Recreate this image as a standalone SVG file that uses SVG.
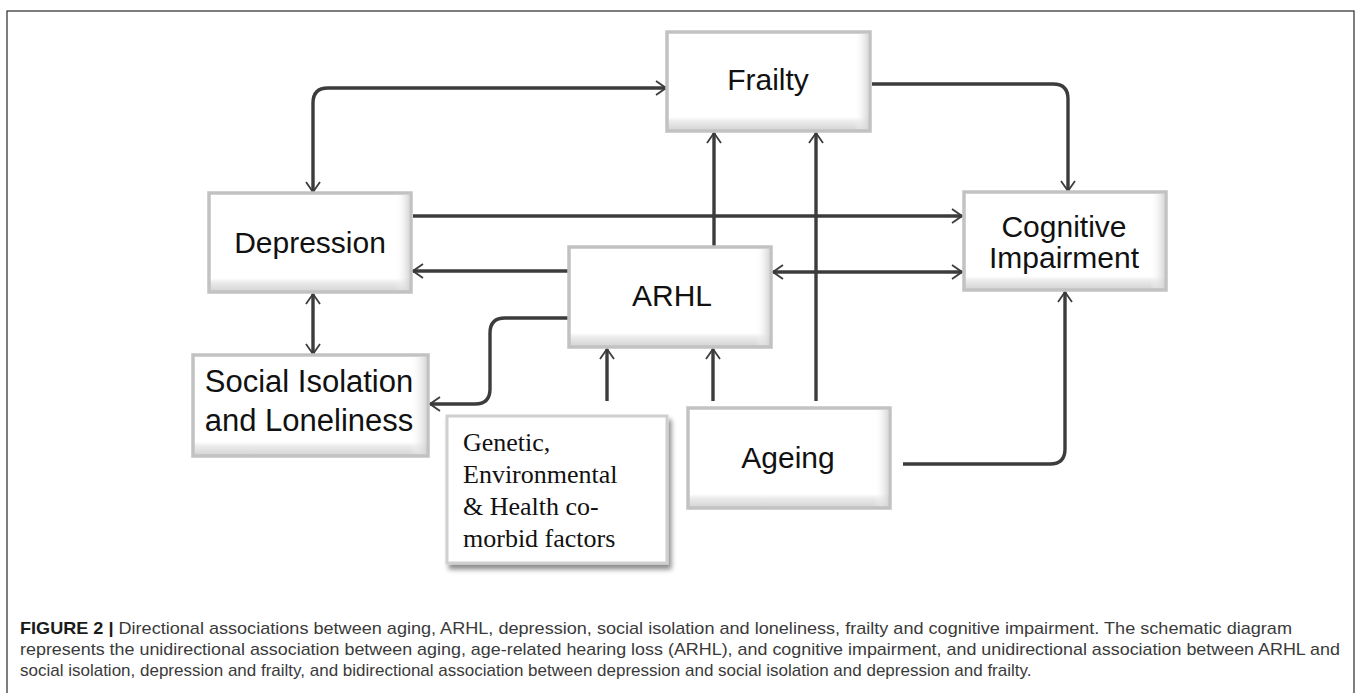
<svg xmlns="http://www.w3.org/2000/svg" width="1358" height="693" viewBox="0 0 1358 693">
  <defs>
    <linearGradient id="boxV" x1="0" y1="0" x2="0" y2="1">
      <stop offset="0" stop-color="#ffffff"/>
      <stop offset="0.86" stop-color="#ffffff"/>
      <stop offset="0.9" stop-color="#ececec"/>
      <stop offset="1" stop-color="#d2d2d2"/>
    </linearGradient>
    <linearGradient id="boxH" x1="0" y1="0" x2="1" y2="0">
      <stop offset="0" stop-color="#ffffff" stop-opacity="0"/>
      <stop offset="0.93" stop-color="#ffffff" stop-opacity="0"/>
      <stop offset="1" stop-color="#d6d6d6" stop-opacity="0.9"/>
    </linearGradient>
    <filter id="shadow" x="-10%" y="-10%" width="130%" height="130%">
      <feGaussianBlur in="SourceAlpha" stdDeviation="2.5"/>
      <feOffset dx="3" dy="5" result="b"/>
      <feComponentTransfer><feFuncA type="linear" slope="0.45"/></feComponentTransfer>
      <feMerge><feMergeNode/><feMergeNode in="SourceGraphic"/></feMerge>
    </filter>
    <marker id="arr" viewBox="0 0 12 16" refX="11" refY="8" markerWidth="12" markerHeight="16" markerUnits="userSpaceOnUse" orient="auto-start-reverse">
      <path d="M1,1 L11,8 L1,15" fill="none" stroke="#3c3c3c" stroke-width="1.8"/>
    </marker>
  </defs>
  <style>
    .frame { fill: none; stroke: #3a3a3a; stroke-width: 1.3; }
    .box { fill: url(#boxV); stroke: #c2c2c2; stroke-width: 3.5; }
    .boxr { fill: url(#boxH); stroke: none; }
    .lbl { font-family: "Liberation Sans", Arial, sans-serif; font-size: 30px; fill: #111; text-anchor: middle; }
    .ser { font-family: "Liberation Serif", "Times New Roman", serif; font-size: 26px; fill: #111; }
    .con { fill: none; stroke: #3c3c3c; stroke-width: 3.4; }
    .cap { font-family: "Liberation Sans", Arial, sans-serif; font-size: 17px; fill: #3a3a3a; }
    .capb { font-weight: bold; fill: #1a1a1a; }
  </style>
  <rect width="1358" height="693" fill="#ffffff"/>
  <rect class="frame" x="7" y="11" width="1347" height="700"/>

  <g id="connectors">
    <path class="con" d="M313,192 V103 Q313,88 328,88 H666" marker-start="url(#arr)" marker-end="url(#arr)"/>
    <path class="con" d="M872,84 H1053 Q1068,84 1068,99 V191" marker-end="url(#arr)"/>
    <path class="con" d="M413,216 H962" marker-end="url(#arr)"/>
    <path class="con" d="M568,271 H413" marker-end="url(#arr)"/>
    <path class="con" d="M773,272 H962" marker-start="url(#arr)" marker-end="url(#arr)"/>
    <path class="con" d="M714,246 V133" marker-end="url(#arr)"/>
    <path class="con" d="M816,401 V133" marker-end="url(#arr)"/>
    <path class="con" d="M607,401 V349" marker-end="url(#arr)"/>
    <path class="con" d="M713,401 V349" marker-end="url(#arr)"/>
    <path class="con" d="M903,464 H1050 Q1065,464 1065,449 V292" marker-end="url(#arr)"/>
    <path class="con" d="M568,318 H505 Q490,318 490,333 V389 Q490,404 475,404 H430" marker-end="url(#arr)"/>
    <path class="con" d="M313,294 V354" marker-start="url(#arr)" marker-end="url(#arr)"/>
  </g>

  <g id="frailty">
    <rect class="box" x="667" y="32" width="203" height="99"/>
    <rect class="boxr" x="669" y="34" width="199" height="95"/>
    <text class="lbl" x="768" y="90">Frailty</text>
  </g>
  <g id="depression">
    <rect class="box" x="209" y="193" width="202" height="99"/>
    <rect class="boxr" x="211" y="195" width="198" height="95"/>
    <text class="lbl" x="310" y="253">Depression</text>
  </g>
  <g id="cognitive">
    <rect class="box" x="964" y="192" width="202" height="98"/>
    <rect class="boxr" x="966" y="194" width="198" height="94"/>
    <text class="lbl" x="1064" y="237">Cognitive</text>
    <text class="lbl" x="1064" y="268">Impairment</text>
  </g>
  <g id="arhl">
    <rect class="box" x="569" y="247" width="202" height="100"/>
    <rect class="boxr" x="571" y="249" width="198" height="96"/>
    <text class="lbl" x="672" y="306">ARHL</text>
  </g>
  <g id="social">
    <rect class="box" x="193" y="355" width="235" height="101"/>
    <rect class="boxr" x="195" y="357" width="231" height="97"/>
    <text class="lbl" x="309" y="392" style="font-size:31px">Social Isolation</text>
    <text class="lbl" x="309" y="431" style="font-size:31px">and Loneliness</text>
  </g>
  <g id="genetic">
    <rect x="447" y="416" width="220" height="147" fill="#ffffff" stroke="#cfcfcf" stroke-width="3" filter="url(#shadow)"/>
    <text class="ser" x="463" y="451">Genetic,</text>
    <text class="ser" x="463" y="483">Environmental</text>
    <text class="ser" x="463" y="515">&amp; Health co-</text>
    <text class="ser" x="463" y="547">morbid factors</text>
  </g>
  <g id="ageing">
    <rect class="box" x="688" y="408" width="202" height="100"/>
    <rect class="boxr" x="690" y="410" width="198" height="96"/>
    <text class="lbl" x="788" y="468">Ageing</text>
  </g>

  <g id="caption">
    <text class="cap" x="20" y="634" textLength="1272" lengthAdjust="spacingAndGlyphs"><tspan class="capb">FIGURE 2 |</tspan> Directional associations between aging, ARHL, depression, social isolation and loneliness, frailty and cognitive impairment. The schematic diagram</text>
    <text class="cap" x="20" y="655" textLength="1320" lengthAdjust="spacingAndGlyphs">represents the unidirectional association between aging, age-related hearing loss (ARHL), and cognitive impairment, and unidirectional association between ARHL and</text>
    <text class="cap" x="20" y="676">social isolation, depression and frailty, and bidirectional association between depression and social isolation and depression and frailty.</text>
  </g>
</svg>
